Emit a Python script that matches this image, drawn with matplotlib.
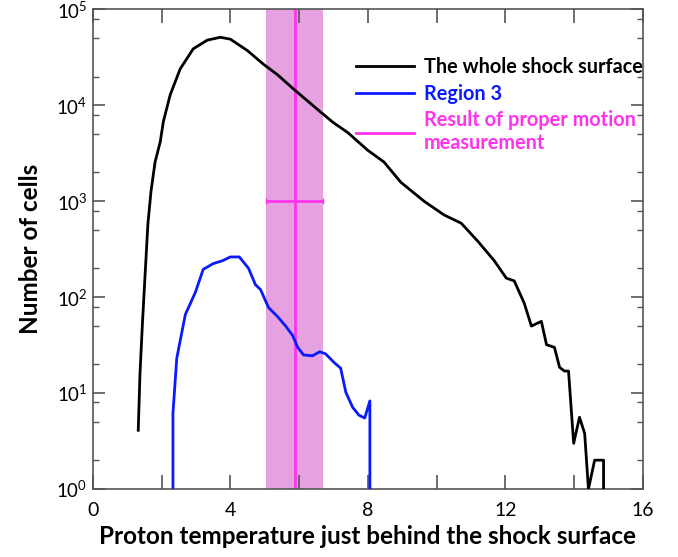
import numpy as np
import matplotlib
matplotlib.use("Agg")
import matplotlib.pyplot as plt
from matplotlib.ticker import MultipleLocator, LogLocator, NullFormatter

plt.rcParams['font.family'] = ['Lato', 'DejaVu Sans']
plt.rcParams['mathtext.fontset'] = 'custom'
plt.rcParams['mathtext.rm'] = 'Lato'

# whole shock surface
whole_t = [1.32, 1.37, 1.44, 1.52, 1.60, 1.69, 1.81, 1.96, 2.05, 2.25, 2.54, 2.92,
           3.33, 3.71, 4.00, 4.50, 4.96, 5.37, 5.84, 6.63, 7.00, 7.42, 7.50, 8.00,
           8.47, 8.96, 9.64, 10.22, 10.72, 11.21, 11.68, 12.03, 12.26, 12.55, 12.76,
           13.05, 13.20, 13.43, 13.58, 13.72, 13.84, 13.99, 14.16, 14.31, 14.42,
           14.60, 14.86, 14.87]
whole_n = [4.1, 15.8, 52, 174, 575, 1260, 2570, 4170, 6760, 12900, 24000, 38900,
           47900, 51300, 49000, 37200, 26900, 20900, 14800, 8500, 6600, 5200, 4900, 3400,
           2570, 1580, 1000, 720, 590, 380, 240, 158, 148, 87, 50,
           56, 32, 30, 18.6, 17, 17, 3.0, 5.6, 3.8, 1,
           2, 2, 0]

# region 3
reg_t = [2.32, 2.33, 2.44, 2.69, 2.98, 3.21, 3.50, 3.77, 4.00, 4.26, 4.53, 4.73,
         4.88, 5.11, 5.37, 5.61, 5.81, 5.96, 6.13, 6.39, 6.60, 6.77, 7.01, 7.21,
         7.36, 7.56, 7.74, 7.91, 8.06, 8.18]
reg_n = [0, 6.2, 23, 66, 112, 195, 224, 240, 263, 263, 200, 135,
         120, 78, 63, 50, 40, 30, 25, 24.5, 27, 25.7, 21, 18.2,
         10.2, 7.1, 5.9, 5.5, 8.3, 0]

# proper motion measurement
pm_t = 5.87
pm_lo = 5.05
pm_hi = 6.69
pm_n = 1000

fig = plt.figure(figsize=(6.78, 5.57), dpi=100)
ax = fig.add_axes([0.137, 0.122, 0.811, 0.861])

ax.axvspan(pm_lo, pm_hi, color='#e6a2e0', lw=0, zorder=0)
ax.axvline(pm_t, color='#ff33ee', lw=2, zorder=1)
ax.errorbar([pm_t], [pm_n], xerr=[[pm_t - pm_lo], [pm_hi - pm_t]], color='#ff33ee',
            lw=2, capsize=2, fmt='none', zorder=1)

ax.plot(whole_t, whole_n, color='black', lw=2, label='The whole shock surface', zorder=3)
ax.plot(reg_t, reg_n, color='#0a1aff', lw=2, label='Region 3', zorder=3)
ax.plot([], [], color='#ff33ee', lw=2, label='Result of proper motion\nmeasurement')

ax.set_yscale('log')
ax.set_xlim(0, 16)
ax.set_ylim(1, 1e5)

ax.xaxis.set_major_locator(MultipleLocator(4))
ax.xaxis.set_minor_locator(MultipleLocator(2))
ax.yaxis.set_minor_locator(LogLocator(base=10, subs=[2, 5, 8], numticks=10))
ax.yaxis.set_minor_formatter(NullFormatter())
ax.set_yticks([1, 10, 100, 1000, 1e4, 1e5])
ax.set_yticklabels([r'$\mathregular{10^{%d}}$' % i for i in range(6)])

ax.tick_params(axis='x', which='both', direction='in', length=10, width=1.2,
               top=True, labelsize=14, pad=9, color='#555555')
ax.tick_params(axis='y', which='major', direction='in', length=8.5, width=1.2,
               right=True, labelsize=13.5, pad=4, color='#555555')
ax.tick_params(axis='y', which='minor', direction='in', length=4.3, width=1.0,
               right=True, color='#555555')
for s in ax.spines.values():
    s.set_color('#555555')
    s.set_linewidth(1.2)

ax.set_xlabel('Proton temperature just behind the shock surface', fontsize=17.5,
              fontweight='bold', labelpad=5)
ax.set_ylabel('Number of cells', fontsize=17.5, fontweight='bold', labelpad=10)

leg = ax.legend(loc='upper right', bbox_to_anchor=(1.0, 0.9), frameon=False,
                fontsize=14.3, handlelength=2.9, handletextpad=0.5,
                labelspacing=0.32, borderpad=0, borderaxespad=0)
for txt, c in zip(leg.get_texts(), ['black', '#0a1aff', '#ff33ee']):
    txt.set_color(c)
    txt.set_fontweight('bold')

fig.savefig('out.png', dpi=100)
